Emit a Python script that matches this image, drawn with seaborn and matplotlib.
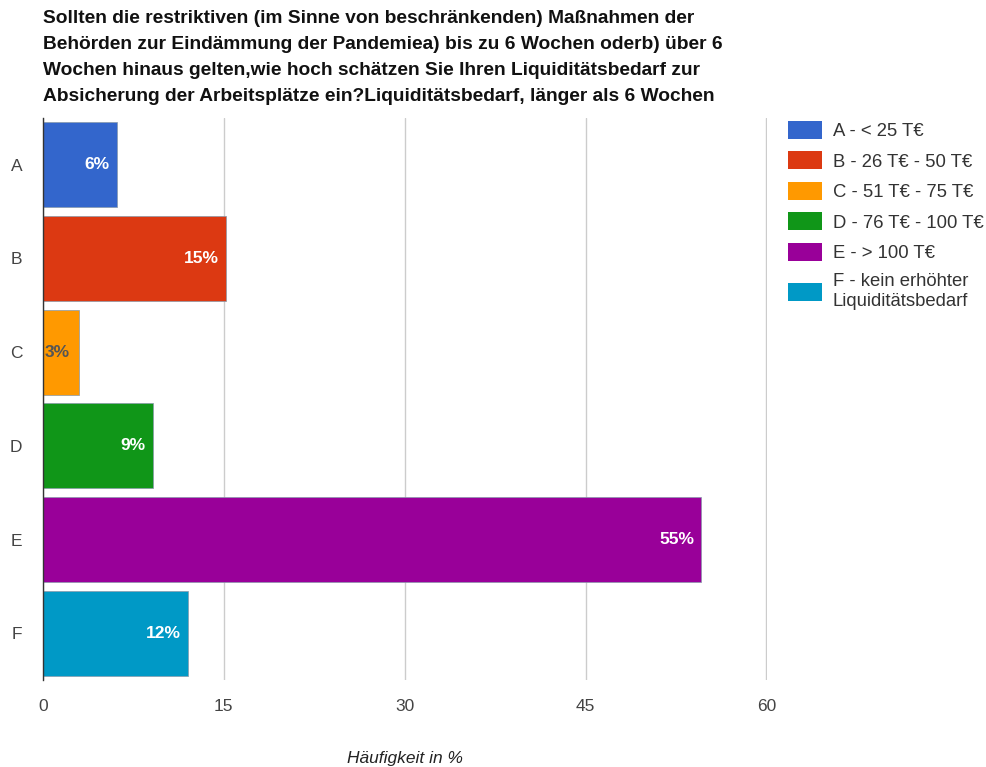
import matplotlib
matplotlib.use("Agg")
import matplotlib.pyplot as plt
import matplotlib.patches as mpatches
import seaborn as sns

# data
categories = ["A", "B", "C", "D", "E", "F"]
values = [6.1, 15.2, 3.0, 9.1, 54.6, 12.0]
legend_labels = ["A - < 25 T€", "B - 26 T€ - 50 T€", "C - 51 T€ - 75 T€",
                 "D - 76 T€ - 100 T€", "E - > 100 T€",
                 "F - kein erhöhter\nLiquiditätsbedarf"]
colors = ["#3366CC", "#DC3912", "#FF9900", "#109618", "#990099", "#0099C6"]
x_ticks = [0, 15, 30, 45, 60]

title = ("Sollten die restriktiven (im Sinne von beschränkenden) Maßnahmen der\n"
         "Behörden zur Eindämmung der Pandemiea) bis zu 6 Wochen oderb) über 6\n"
         "Wochen hinaus gelten,wie hoch schätzen Sie Ihren Liquiditätsbedarf zur\n"
         "Absicherung der Arbeitsplätze ein?Liquiditätsbedarf, länger als 6 Wochen")

sns.set_style("white")
plt.rcParams["font.family"] = ["Liberation Sans", "DejaVu Sans"]

fig = plt.figure(figsize=(9.87, 7.67), dpi=100)
ax = fig.add_axes([43 / 987, 1 - 680 / 767, (767 - 43) / 987, (680 - 118) / 767])

sns.barplot(x=values, y=categories, hue=categories, palette=colors, orient="h",
            width=0.91, legend=False, ax=ax, edgecolor="#8899aa", linewidth=0.5,
            saturation=1)

ax.set_xlim(0, 60.05)
ax.set_xticks(x_ticks)
ax.set_xticklabels([str(t) for t in x_ticks])
ax.grid(axis="x", color="#cccccc", linewidth=1)
ax.set_axisbelow(True)
for s in ["top", "right", "bottom"]:
    ax.spines[s].set_visible(False)
ax.spines["left"].set_color("#333333")
ax.spines["left"].set_linewidth(1)
ax.tick_params(axis="both", length=0, labelsize=12.5, colors="#444444")
ax.tick_params(axis="x", pad=14)
ax.tick_params(axis="y", pad=15)
ax.set_xlabel("Häufigkeit in %", fontsize=12.5, style="italic", color="#222222",
              labelpad=26)
ax.set_ylabel("")

# value labels
for i, v in enumerate(values):
    txt = f"{v:.0f}%"
    if v < 5:
        ax.text(0.15, i, txt, ha="left", va="center", fontsize=12.5,
                fontweight="bold", color="#555555")
    else:
        ax.text(v - 0.6, i, txt, ha="right", va="center", fontsize=12.5,
                fontweight="bold", color="white")

fig.text(43 / 987, 1 - 10 / 767, title, ha="left", va="top", fontsize=13.8,
         fontweight="bold", color="#111111", linespacing=1.68)

handles = [mpatches.Patch(facecolor=c, edgecolor="none") for c in colors]
fig.legend(handles, legend_labels, loc="upper left",
           bbox_to_anchor=(771 / 987, 1 - 104 / 767), frameon=False,
           fontsize=13.3, handlelength=1.88, handleheight=1.15,
           labelspacing=0.6, handletextpad=0.55, labelcolor="#333333")

fig.savefig("out.png", dpi=100)
